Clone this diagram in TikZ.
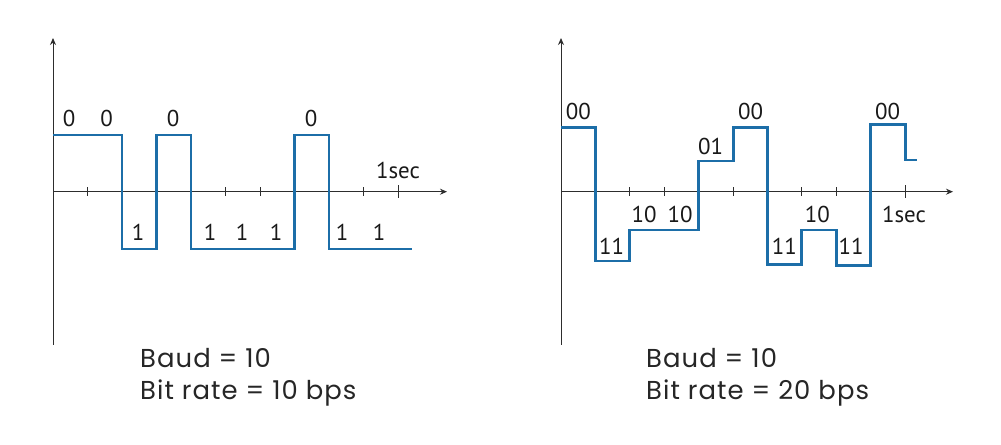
\documentclass[tikz,border=0pt]{standalone}
\usepackage{fontspec}
\setmainfont{PT Sans}
\newfontfamily\capfont[LetterSpace=4]{Poppins}
\usetikzlibrary{arrows.meta}
\definecolor{sig}{RGB}{28,110,168}
\definecolor{axc}{RGB}{45,45,45}
\tikzset{
  axis/.style={draw=axc, line width=1pt},
  axarrow/.style={axis, -{Stealth[length=7bp,width=6bp]}},
  tick/.style={draw=axc, line width=1pt},
  signal/.style={draw=sig, line width=3pt, line join=miter},
  lbl/.style={font=\fontsize{23}{23}\selectfont, text=black!90, inner sep=0pt},
  caption/.style={font=\capfont\fontsize{26}{26}\selectfont, text=black!85, inner sep=0pt, anchor=base west}
}
\begin{document}
\begin{tikzpicture}[x=1bp,y=-1bp]
\useasboundingbox[fill=white] (0,0) rectangle (1001,445);
% ---------------- left chart ----------------
\coordinate (LO) at (53,191.7);
\coordinate (LT) at (53,38);
\coordinate (LB) at (53,345);
\coordinate (LR) at (447,191.7);
\draw[axarrow] (LB) -- (LT);
\draw[axarrow] (LO) -- (LR);
\foreach \x in {87.5,225.5,260,363.5}{\draw[tick] (\x,187.5) -- (\x,196);}
\draw[tick] (398,185.5) -- (398,198);
\draw[signal] (53,135) -- (122,135) -- (122,249) -- (156.5,249) -- (156.5,135)
  -- (191,135) -- (191,249) -- (294.5,249) -- (294.5,135) -- (329,135)
  -- (329,249) -- (412,249);
\node[lbl] (l0a) at (69,118) {0};
\node[lbl] (l0b) at (106.5,118) {0};
\node[lbl] (l1a) at (138,232) {1};
\node[lbl] (l0c) at (173,118) {0};
\node[lbl] (l1b) at (210,232) {1};
\node[lbl] (l1c) at (242,232) {1};
\node[lbl] (l1d) at (276,232) {1};
\node[lbl] (l0d) at (311,118) {0};
\node[lbl] (l1e) at (342,232) {1};
\node[lbl] (l1f) at (379,232) {1};
\node[lbl] (lsec) at (398,170) {1sec};
\node[caption] (lcap1) at (140,367.3) {Baud = 10};
\node[caption] (lcap2) at (140,400) {Bit rate = 10 bps};
% ---------------- right chart ----------------
\coordinate (RO) at (561,191.7);
\coordinate (RT) at (561,38);
\coordinate (RB) at (561,345);
\coordinate (RR) at (953,191.7);
\draw[axarrow] (RB) -- (RT);
\draw[axarrow] (RO) -- (RR);
\foreach \x in {629.8,664.2,733,801.8,836.2}{\draw[tick] (\x,187.5) -- (\x,196);}
\draw[tick] (905,185.5) -- (905,198);
\draw[signal] (561,127.3) -- (595.4,127.3) -- (595.4,261) -- (629.8,261) -- (629.8,230)
  -- (698.6,230) -- (698.6,161) -- (733,161) -- (733,127.3) -- (767.4,127.3)
  -- (767.4,264.3) -- (801.8,264.3) -- (801.8,230) -- (836.2,230) -- (836.2,265.3)
  -- (870.6,265.3) -- (870.6,124.7) -- (905,124.7) -- (905,160) -- (917,160);
\node[lbl] (r00a) at (578.3,111) {00};
\node[lbl] (r11a) at (611.7,246.7) {11};
\node[lbl] (r10a) at (644,214) {10};
\node[lbl] (r10b) at (680,214) {10};
\node[lbl] (r01a) at (710.7,146.7) {01};
\node[lbl] (r00b) at (750.7,111) {00};
\node[lbl] (r11b) at (784.3,246.7) {11};
\node[lbl] (r10c) at (817.3,214) {10};
\node[lbl] (r11c) at (851,246.7) {11};
\node[lbl] (r00c) at (887.7,111) {00};
\node[lbl] (rsec) at (904,214) {1sec};
\node[caption] (rcap1) at (646,367.3) {Baud = 10};
\node[caption] (rcap2) at (646,400) {Bit rate = 20 bps};
\end{tikzpicture}
\end{document}
